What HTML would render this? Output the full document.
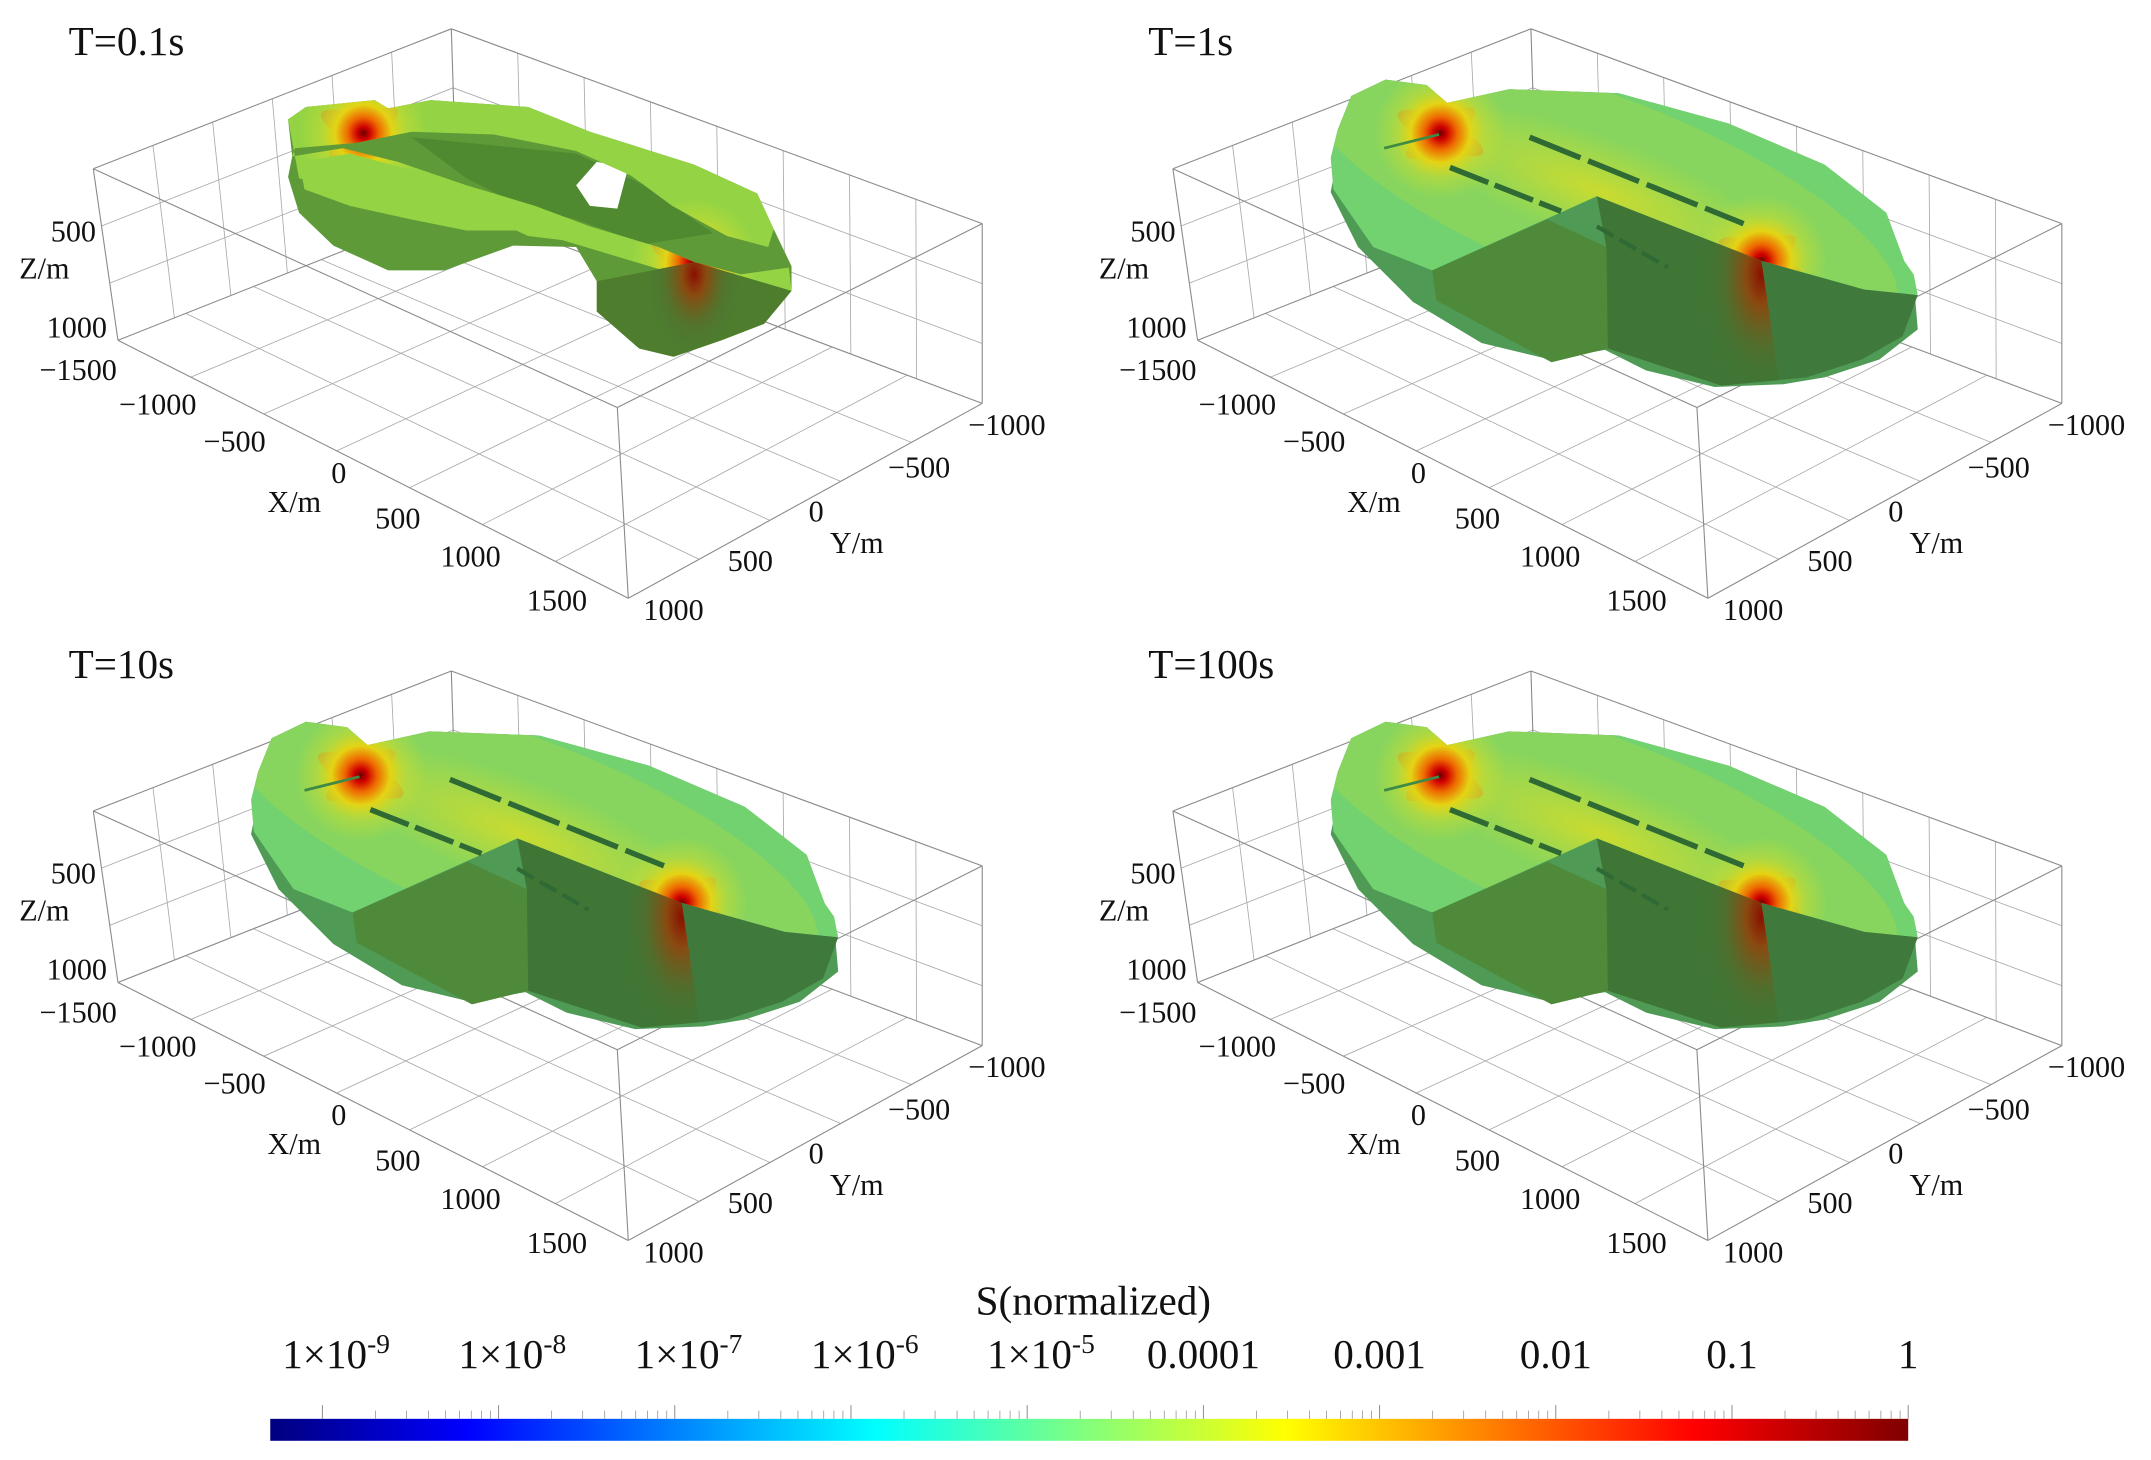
<!DOCTYPE html>
<html><head><meta charset="utf-8"><style>
html,body{margin:0;padding:0;background:#fff;}
svg{display:block;font-family:"Liberation Serif",serif;}
</style></head><body>
<svg id="fig" width="2151" height="1460" viewBox="0 0 1568 1064" preserveAspectRatio="none" xmlns="http://www.w3.org/2000/svg">
<defs>
<linearGradient id="jet" x1="0" x2="1" y1="0" y2="0">
<stop offset="0" stop-color="#00007f"/><stop offset="0.12" stop-color="#0000ff"/>
<stop offset="0.37" stop-color="#00ffff"/><stop offset="0.62" stop-color="#ffff00"/>
<stop offset="0.87" stop-color="#ff0000"/><stop offset="1" stop-color="#800000"/>
</linearGradient>
<radialGradient id="hot" cx="0.5" cy="0.5" r="0.5">
<stop offset="0" stop-color="#6a0000"/><stop offset="0.1" stop-color="#d00000"/>
<stop offset="0.25" stop-color="#ee6a00"/><stop offset="0.45" stop-color="#e4d414"/>
<stop offset="0.7" stop-color="#c8dc30" stop-opacity="0.5"/><stop offset="1" stop-color="#c8dc30" stop-opacity="0"/>
</radialGradient>
<radialGradient id="hotside" cx="0.5" cy="0.5" r="0.5">
<stop offset="0" stop-color="#8a1000"/><stop offset="0.25" stop-color="#8a4a10"/>
<stop offset="0.6" stop-color="#5a6a28" stop-opacity="0.6"/><stop offset="1" stop-color="#3f7a38" stop-opacity="0"/>
</radialGradient>
<radialGradient id="yel" cx="0.5" cy="0.5" r="0.5">
<stop offset="0" stop-color="#d2dc2a" stop-opacity="0.9"/><stop offset="1" stop-color="#c8dc30" stop-opacity="0"/>
</radialGradient>
<clipPath id="topBig"><polygon points="188,95 198,70 223,58 253,62 268,75 313,65 393,68 473,90 543,120 588,155 601,190 608,200 611,215 572,211 497,190 377,143 257,197 214,180 185,138 183,115"/></clipPath>
<clipPath id="faceB"><polygon points="377,143 497,190 510,277 468,281 385,254 384,180"/></clipPath>
<clipPath id="topSmall"><polygon points="210,87 223,78 273,73 283,79 314,73 385,78 430,96 506,120 552,141 564,167 560,180 530,172 490,150 460,128 420,110 360,98 300,96 260,104 215,108 213,114 250,108 290,118 340,135 390,150 430,165 480,180 506,191 540,200 575,195 577,212 560,222 510,205 460,190 410,175 385,172 370,165 330,150 290,140 250,135 218,130"/></clipPath>
<clipPath id="sideSmall"><polygon points="435,205 506,191 577,212 557,236 526,248 491,260 466,254 435,227"/></clipPath>
</defs>
<g id="panels"></g>
<g id="colorbar"></g>
</svg>
<script>
// colorbar data
const cbExponents = [-9,-8,-7,-6,-5,-4,-3,-2,-1,0];
const cbLabels = ["1×10","1×10","1×10","1×10","1×10","0.0001","0.001","0.01","0.1","1"];
const cbSup = ["-9","-8","-7","-6","-5","","","","",""];
const panelTitles = ["T=0.1s","T=1s","T=10s","T=100s"];
const xTicks = ["−1500","−1000","−500","0","500","1000","1500"];
const yTicks = ["−1000","−500","0","500","1000"];
const zTicks = ["500","1000"];

const NS="http://www.w3.org/2000/svg";
function mk(tag, attrs, parent){const e=document.createElementNS(NS,tag);for(const k in attrs)e.setAttribute(k,attrs[k]);if(parent)parent.appendChild(e);return e;}

const cbX0=235, cbX1=1391;
function cbScale(exp){return cbX0+(exp-cbExponents[0])/(cbExponents[cbExponents.length-1]-cbExponents[0])*(cbX1-cbX0);}

const cb=document.getElementById('colorbar');
const bar=mk('rect',{x:197,y:1034,width:1194,height:16,fill:'url(#jet)'},cb);


const cbt=mk('text',{x:797,y:958,'font-size':30,'text-anchor':'middle',fill:'#111'},cb);
cbt.textContent='S(normalized)';


cbExponents.forEach((e,i)=>{
  const x=cbScale(e);
  const t=mk('text',{x:x+(cbSup[i]?10:0),y:997,'font-size':30,'text-anchor':'middle',fill:'#111'},cb);
  
  
  t.textContent=cbLabels[i];
  if(cbSup[i]){const s=mk('tspan',{dy:-11,'font-size':20},t);s.textContent=cbSup[i];}
  const tk=mk('line',{x1:x,x2:x,y1:1024,y2:1034,stroke:'#888','stroke-width':0.7},cb);
  
  
  if(i<cbExponents.length-1){
    for(let m=2;m<=9;m++){
      const mx=cbScale(e+Math.log10(m));
      const mt=mk('line',{x1:mx,x2:mx,y1:1028,y2:1034,stroke:'#999','stroke-width':0.6},cb);
      
      
    }
  }
});

const T0=[329,21],TL=[68,123],TF=[450,297],TR=[716,163];
const BB=[333,150],BL=[86,248],BF=[458,436],BR=[716,294];
function lerp(a,b,t){return [a[0]+(b[0]-a[0])*t,a[1]+(b[1]-a[1])*t];}
function line(g,a,b,sw,col){return mk('line',{x1:a[0],y1:a[1],x2:b[0],y2:b[1],stroke:col||'#a8a8a8','stroke-width':sw||0.6},g);}
function face(g,p00,p10,p01,p11,n1,n2){
  for(let i=1;i<n1;i++){line(g,lerp(p00,p10,i/n1),lerp(p01,p11,i/n1));}
  for(let j=1;j<n2;j++){line(g,lerp(p00,p01,j/n2),lerp(p10,p11,j/n2));}
}

const offsets=[[0,0],[787,0],[0,468],[787,468]];
const titleOff=[[0,0],[787,0],[0,454],[787,454]];
const panels=document.getElementById('panels');

function cross(g,cx,cy){
  mk('ellipse',{cx:cx,cy:cy,rx:34,ry:10,fill:'#e07010',opacity:0.55,transform:`rotate(25 ${cx} ${cy})`},g);
  mk('ellipse',{cx:cx,cy:cy,rx:30,ry:9,fill:'#e07010',opacity:0.5,transform:`rotate(-35 ${cx} ${cy})`},g);
}
function bigShape(g){
  mk('polygon',{points:"188,95 198,70 223,58 253,62 268,75 313,65 393,68 473,90 543,120 588,155 601,190 608,205 611,240 583,262 543,275 513,280 463,282 413,270 383,255 343,262 293,250 243,220 203,180 183,140 188,115",fill:'#4f9a55'},g);
  mk('polygon',{points:"572,211 611,215 600,245 570,262 530,275 510,277 497,190",fill:'#3f7a3c'},g);
  const top=mk('g',{'clip-path':'url(#topBig)'},g);
  mk('rect',{x:150,y:40,width:500,height:200,fill:'#72d270'},top);
  mk('ellipse',{cx:380,cy:140,rx:230,ry:70,fill:'#9cd84c',opacity:0.5,transform:'rotate(21 380 140)'},top);
  mk('ellipse',{cx:380,cy:140,rx:150,ry:40,fill:'url(#yel)',transform:'rotate(21 380 140)'},top);
  cross(top,263,97); cross(top,497,190);
  mk('circle',{cx:263,cy:97,r:48,fill:'url(#hot)'},top);
  mk('circle',{cx:497,cy:190,r:48,fill:'url(#hot)'},top);
  mk('line',{x1:222,y1:108,x2:262,y2:98,stroke:'#3f8a45','stroke-width':2},top);
  mk('polygon',{points:"257,197 341,160 384,180 385,254 344,264 260,219",fill:'#4f8a3a'},g);
  const fb=mk('g',{'clip-path':'url(#faceB)'},g);
  mk('rect',{x:370,y:130,width:150,height:160,fill:'#3f7535'},fb);
  mk('ellipse',{cx:497,cy:200,rx:45,ry:90,fill:'url(#hotside)'},fb);
  mk('line',{x1:328,y1:100,x2:484,y2:163,stroke:'#2f6a35','stroke-width':4,'stroke-dasharray':'40 6'},g);
  mk('line',{x1:270,y1:122,x2:351,y2:154,stroke:'#2f6a35','stroke-width':4,'stroke-dasharray':'30 5'},g);
  mk('line',{x1:377,y1:165,x2:429,y2:195,stroke:'#2f6a35','stroke-width':3,'stroke-dasharray':'14 5'},g);
}
function smallShape(g){
  mk('polygon',{points:"210,87 223,78 273,73 283,79 314,73 385,78 430,96 506,120 552,141 564,167 577,194 577,212 557,236 526,248 491,260 466,254 435,227 435,205 420,180 374,179 324,197 283,197 243,179 218,155 210,129 213,114",fill:'#5f9a38'},g);
  mk('polygon',{points:"300,100 420,112 470,135 520,170 470,178 420,160 380,150 340,130",fill:'#4f8a30'},g);
  mk('polygon',{points:"420,135 435,118 458,122 450,152 430,150",fill:'#ffffff'},g);
  const top=mk('g',{'clip-path':'url(#topSmall)'},g);
  mk('rect',{x:200,y:60,width:400,height:170,fill:'#94d444'},top);
  cross(top,265,97); cross(top,506,191);
  mk('circle',{cx:265,cy:97,r:46,fill:'url(#hot)'},top);
  mk('circle',{cx:506,cy:191,r:46,fill:'url(#hot)'},top);
  mk('polygon',{points:"218,118 255,112 300,124 345,140 372,152 378,168 340,168 300,160 255,150 222,138",fill:'#94d444'},g);
  const sd=mk('g',{'clip-path':'url(#sideSmall)'},g);
  mk('rect',{x:430,y:185,width:150,height:80,fill:'#4f7d2e'},sd);
  mk('ellipse',{cx:506,cy:200,rx:35,ry:60,fill:'url(#hotside)'},sd);
}

offsets.forEach((o,pi)=>{
  const g=mk('g',{transform:`translate(${o[0]},${o[1]})`},panels);
  
  
  const grid=mk('g',{},g);
  
  
  face(grid,BL,BF,BB,BR,7,5);
  face(grid,TL,T0,BL,BB,6,3);
  face(grid,T0,TR,BB,BR,8,3);
  [[T0,TL],[TL,TF],[TF,TR],[TR,T0],[BL,BF],[BF,BR],[TL,BL],[TF,BF],[TR,BR],[T0,BB],[BL,BB],[BB,BR]].forEach(e=>line(grid,e[0],e[1],0.8,'#8a8a8a'));
  const sg=mk('g',{},g);
  
  
  if(pi===0) smallShape(sg); else bigShape(sg);
  const lab=(txt,x,y,name,anchor)=>{const t=mk('text',{x:x,y:y,'font-size':22,'text-anchor':anchor||'start',fill:'#111'},g);t.textContent=txt;
    
    };
  lab(zTicks[0],70,176,'z-tick-label','end'); lab(zTicks[1],78,246,'z-tick-label','end');
  lab('Z/m',14,203,'z-axis-title');
  const xp=[[57,277],[115,302],[171,329],[247,352],[290,385],[343,413],[406,445]];
  xTicks.forEach((t,i)=>lab(t,xp[i][0],xp[i][1],'x-tick-label','middle'));
  lab('X/m',195,373,'x-axis-title');
  const yp=[[734,317],[670,348],[595,380],[547,416],[491,452]];
  yTicks.forEach((t,i)=>lab(t,yp[i][0],yp[i][1],'y-tick-label','middle'));
  lab('Y/m',605,403,'y-axis-title');
  const tt=mk('text',{x:50+titleOff[pi][0],y:40+titleOff[pi][1],'font-size':30,fill:'#111'},panels);
  tt.textContent=panelTitles[pi];
  
  
});
</script>
</body></html>
